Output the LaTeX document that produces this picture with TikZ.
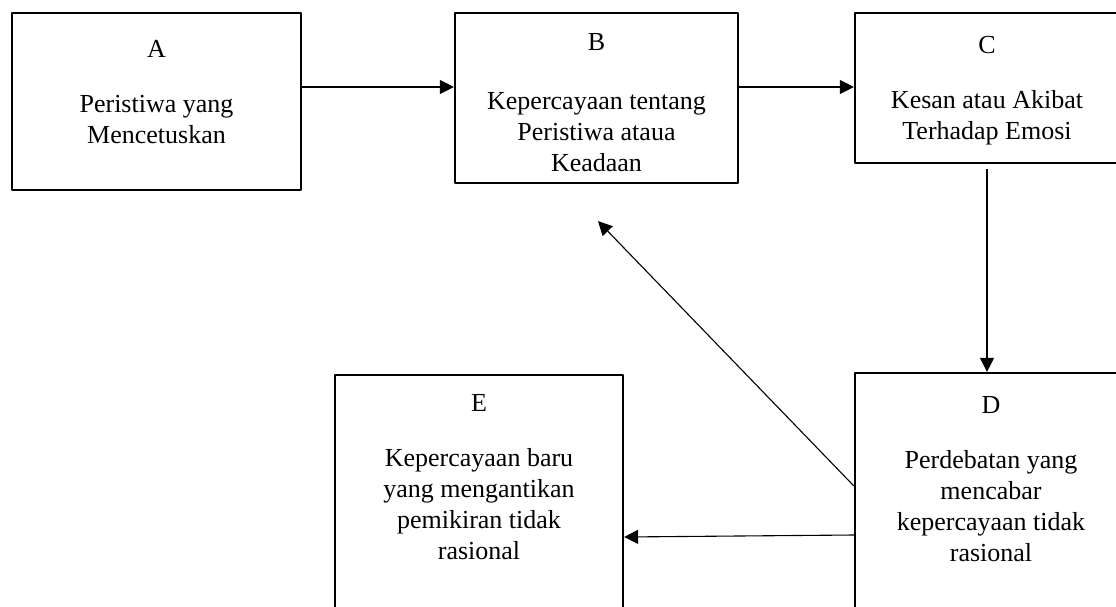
\documentclass[tikz,border=0pt]{standalone}
\usepackage{fontspec}
\setmainfont{Liberation Serif}
\usetikzlibrary{arrows.meta}
\begin{document}
\begin{tikzpicture}[x=1pt,y=-1pt,font=\fontsize{26}{31}\selectfont, line join=round, >={Triangle[length=14pt,width=14pt]},
	kotak/.style={draw,line width=2.2pt,inner sep=0pt,align=flush center,anchor=base},
	panah/.style={->,line width=1.1pt}]
	\clip (0,0) rectangle (1116,607);
	%Kotak atas
	\node[kotak,text width=289pt,text height=44.5pt,text depth=132.5pt] (a) at (156.5,57.5) {A\\[24pt]Peristiwa yang\\Mencetuskan};
	\node[kotak,text width=283pt,text height=37.5pt,text depth=132.5pt] (b) at (596.5,50.5) {B\\[28pt]Kepercayaan tentang\\Peristiwa ataua\\Keadaan};
	\node[kotak,text width=264pt,text height=40.5pt,text depth=109.5pt] (c) at (987,53.5) {C\\[24pt]Kesan atau Akibat\\Terhadap Emosi};
	
	%Kotak bawah
	\node[kotak,text width=272pt,text height=40.5pt,text depth=206.5pt] (d) at (991,413.5) {D\\[24pt]Perdebatan yang\\mencabar\\kepercayaan tidak\\rasional};
	\node[kotak,text width=288pt,text height=36.5pt,text depth=208.5pt] (e) at (479,411.5) {E\\[24pt]Kepercayaan baru\\yang mengantikan\\pemikiran tidak\\rasional};
	
	%Panah
	\draw[panah] ([yshift=14.5pt]a.east)--([yshift=11pt]b.west);
	\draw[panah] ([yshift=11pt]b.east)--([yshift=1pt]c.west);
	\draw[panah] ([yshift=-5pt]c.south)--(c.south |- d.north);
	\draw[panah] ([yshift=-38.5pt]d.west)--([yshift=-39.5pt]e.east);
	\coordinate (bawahB) at ([xshift=1.5pt,yshift=-37pt]b.south);
	\draw[panah] ([yshift=10.5pt]d.west)--(bawahB);
\end{tikzpicture}
\end{document}
